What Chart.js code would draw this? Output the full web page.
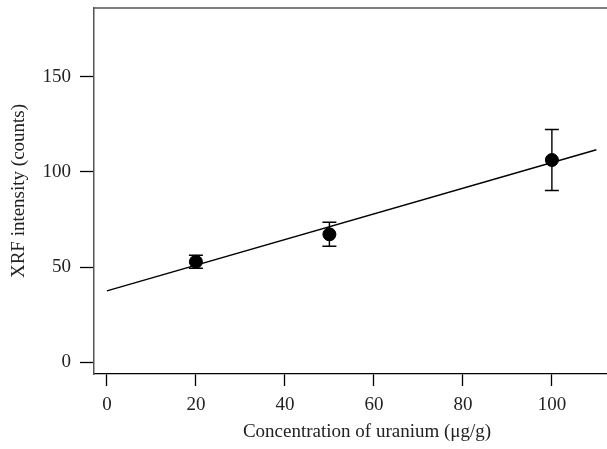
<!DOCTYPE html>
<html>
<head>
<meta charset="utf-8">
<script src="https://cdn.jsdelivr.net/npm/chart.js@4.4.1/dist/chart.umd.min.js"></script>
<style>
  html, body { margin: 0; padding: 0; background: #fff; overflow: hidden; }
  #wrap { width: 650px; height: 449px; }
</style>
</head>
<body>
<div id="wrap"><canvas id="myChart" width="650" height="449"></canvas></div>
<script>
// measured points (concentration in ug/g, XRF counts, +/- error)
const concentration = [20, 50, 100];
const intensity = [52.8, 67.2, 106.2];
const intensityError = [3.4, 6.3, 16.0];

// calibration line
const fitX = [0, 110];
const fitY = [37.5, 111.6];

const xTicks = [0, 20, 40, 60, 80, 100];
const yTicks = [0, 50, 100, 150];

Chart.defaults.font.family = "'Liberation Serif', 'DejaVu Serif', serif";
Chart.defaults.font.size = 19;
Chart.defaults.color = "#222";

const errorBars = {
  id: "errorBars",
  afterDatasetsDraw(chart) {
    const { ctx, scales: { x, y } } = chart;
    ctx.save();
    ctx.strokeStyle = "#000";
    ctx.lineWidth = 1.4;
    concentration.forEach((c, i) => {
      const px = x.getPixelForValue(c);
      const top = y.getPixelForValue(intensity[i] + intensityError[i]);
      const bot = y.getPixelForValue(intensity[i] - intensityError[i]);
      ctx.beginPath();
      ctx.moveTo(px, top);
      ctx.lineTo(px, bot);
      ctx.moveTo(px - 7, top);
      ctx.lineTo(px + 7, top);
      ctx.moveTo(px - 7, bot);
      ctx.lineTo(px + 7, bot);
      ctx.stroke();
    });
    ctx.restore();
  }
};

const topFrame = {
  id: "topFrame",
  afterDraw(chart) {
    const { ctx, chartArea } = chart;
    ctx.save();
    ctx.strokeStyle = "#555";
    ctx.lineWidth = 1.5;
    ctx.beginPath();
    ctx.moveTo(chartArea.left - 0.75, chartArea.top);
    ctx.lineTo(chartArea.right, chartArea.top);
    ctx.stroke();
    ctx.restore();
  }
};

new Chart(document.getElementById("myChart"), {
  type: "scatter",
  data: {
    datasets: [
      {
        label: "Points",
        data: concentration.map((c, i) => ({ x: c, y: intensity[i] })),
        backgroundColor: "#000",
        borderColor: "#000",
        pointRadius: 6.5,
        pointHoverRadius: 6.5
      },
      {
        label: "Fit",
        type: "line",
        data: fitX.map((v, i) => ({ x: v, y: fitY[i] })),
        borderColor: "#000",
        borderWidth: 1.5,
        pointRadius: 0,
        fill: false
      }
    ]
  },
  options: {
    responsive: false,
    animation: false,
    layout: { padding: { left: 0, top: 8, right: 10, bottom: 0 } },
    plugins: {
      legend: { display: false },
      tooltip: { enabled: false }
    },
    scales: {
      x: {
        type: "linear",
        min: -2.9,
        max: 119.8,
        afterBuildTicks: (s) => { s.ticks = xTicks.map((v) => ({ value: v })); },
        afterFit: (s) => { s.height = 75; s.paddingLeft = 0; s.paddingRight = 0; },
        grid: { drawOnChartArea: false, tickLength: 12, tickColor: "#000", tickWidth: 1.3 },
        border: { color: "#000", width: 1.3 },
        ticks: { padding: 8, maxRotation: 0 },
        title: {
          display: true,
          text: "Concentration of uranium (μg/g)",
          padding: { top: 0, bottom: 6 }
        }
      },
      y: {
        min: -6.14,
        max: 186,
        afterBuildTicks: (s) => { s.ticks = yTicks.map((v) => ({ value: v })); },
        afterFit: (s) => { s.width = 94; s.paddingTop = 0; s.paddingBottom = 0; },
        grid: { drawOnChartArea: false, tickLength: 14, tickColor: "#000", tickWidth: 1.3 },
        border: { color: "#555", width: 1.5 },
        ticks: { padding: 9 },
        title: {
          display: true,
          text: "XRF intensity (counts)",
          padding: { top: 8, bottom: 0 }
        }
      }
    }
  },
  plugins: [errorBars, topFrame]
});
</script>
</body>
</html>
